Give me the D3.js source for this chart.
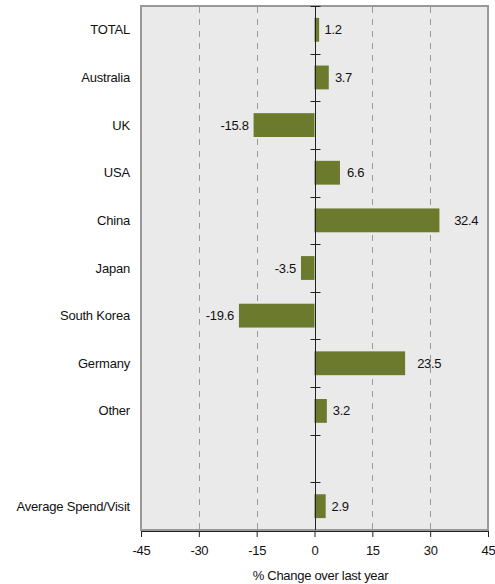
<!DOCTYPE html>
<html><head><meta charset="utf-8">
<script src="https://cdn.jsdelivr.net/npm/d3@7"></script>
<style>
body{margin:0;background:#fff;}
text{font-family:"Liberation Sans",Arial,sans-serif;font-size:13px;fill:#111;}
</style></head>
<body>
<svg id="c" width="495" height="584"></svg>
<script>
const categories = ["TOTAL","Australia","UK","USA","China","Japan","South Korea","Germany","Other","","Average Spend/Visit"];
const values = [1.2,3.7,-15.8,6.6,32.4,-3.5,-19.6,23.5,3.2,null,2.9];
const valueLabels = ["1.2","3.7","-15.8","6.6","32.4","-3.5","-19.6","23.5","3.2","","2.9"];
const xTicks = [-45,-30,-15,0,15,30,45];
const xTitle = "% Change over last year";

const svg = d3.select("#c");
const L = 141, R = 488, T = 6, B = 530;
const x = d3.scaleLinear().domain([-45,45]).range([L,R]);
const y = d3.scaleBand().domain(d3.range(categories.length)).range([T,B]).paddingInner(0.5).paddingOuter(0.25);
const step = y.step();

svg.append("rect").attr("x",L).attr("y",T).attr("width",R-L).attr("height",B-T)
  .attr("fill","#EAEAEA").attr("stroke","#999").attr("stroke-width",2);

// dashed gridlines
svg.append("g").selectAll("line").data(xTicks.filter(d=>d!==0 && Math.abs(d)!==45)).join("line")
  .attr("x1",d=>Math.round(x(d))+0.5).attr("x2",d=>Math.round(x(d))+0.5)
  .attr("y1",T+1).attr("y2",B)
  .attr("stroke","#999").attr("stroke-dasharray","6,6");

// bars
const idx = d3.range(categories.length).filter(i=>values[i]!==null);
svg.append("g").selectAll("rect").data(idx).join("rect")
  .attr("x",i=>x(Math.min(0,values[i])))
  .attr("width",i=>Math.abs(x(values[i])-x(0)))
  .attr("y",i=>y(i)).attr("height",y.bandwidth())
  .attr("fill","#6B7A2C");

// zero axis with cross ticks
const x0 = Math.round(x(0))+0.5;
svg.append("line").attr("x1",x0).attr("x2",x0).attr("y1",T).attr("y2",B).attr("stroke","#222");
svg.append("g").selectAll("line").data(d3.range(categories.length)).join("line")
  .attr("x1",x0-5).attr("x2",x0+5)
  .attr("y1",i=>Math.round(T+i*step)+0.5).attr("y2",i=>Math.round(T+i*step)+0.5)
  .attr("stroke","#222");

// value labels
svg.append("g").selectAll("text").data(idx).join("text")
  .attr("x",i=>values[i]>=0 ? x(values[i])+5+0.3*values[i] : x(values[i])-5)
  .attr("y",i=>y(i)+y.bandwidth()/2)
  .attr("dy","0.35em")
  .attr("text-anchor",i=>values[i]>=0?"start":"end")
  .style("letter-spacing","-0.3px")
  .text(i=>valueLabels[i]);

// category labels
svg.append("g").selectAll("text").data(d3.range(categories.length)).join("text")
  .attr("x",130).attr("y",i=>y(i)+y.bandwidth()/2).attr("dy","0.35em")
  .attr("text-anchor","end").style("letter-spacing","-0.2px")
  .text(i=>categories[i]);

// bottom axis
const ax = svg.append("g").attr("transform",`translate(0,${B+1})`)
  .call(d3.axisBottom(x).tickValues(xTicks).tickSize(6).tickPadding(9).tickFormat(d=>String(d)));
ax.select(".domain").attr("stroke","#222");
ax.selectAll(".tick line").attr("stroke","#222");
ax.selectAll(".tick text").style("font-size","13px").style("letter-spacing","-0.3px").attr("fill","#111")
  .style("font-family","'Liberation Sans',Arial,sans-serif");

svg.append("text").attr("x",x(0)+6).attr("y",580).attr("text-anchor","middle")
  .style("letter-spacing","-0.3px").text(xTitle);
</script>
</body></html>
